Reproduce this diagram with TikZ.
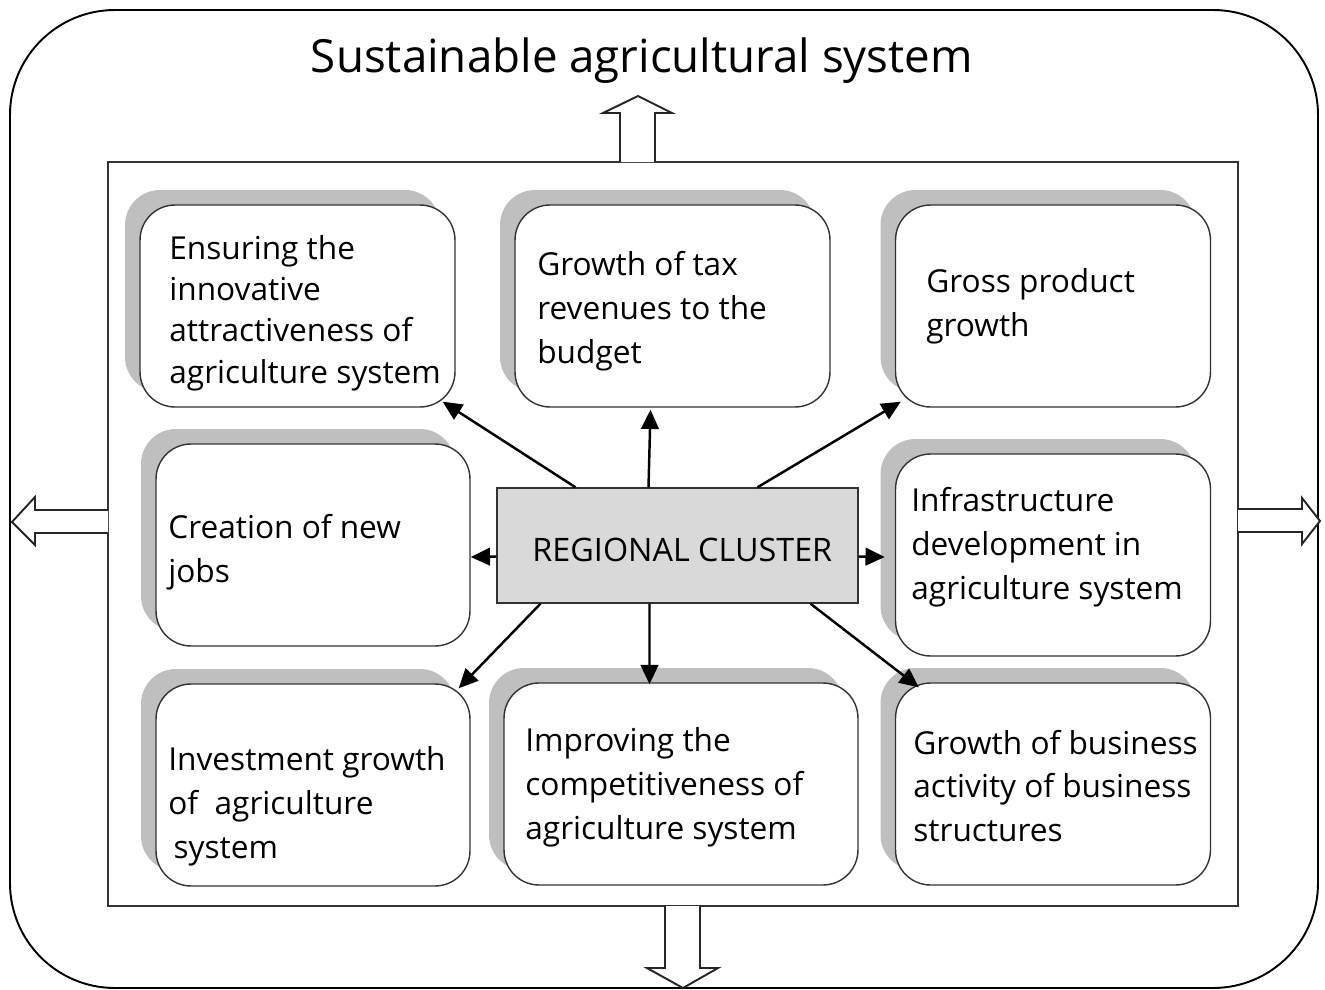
\documentclass[tikz,border=0pt]{standalone}
\usepackage{fontspec}
\setmainfont{Open Sans}
\usetikzlibrary{calc,shadows,arrows.meta}
\begin{document}
\begin{tikzpicture}[x=0.02cm,y=-0.02cm,
	effect/.style={draw=black!80,line width=0.8pt,rounded corners=0.7cm,fill=white,
		minimum width=6.3cm,minimum height=4.04cm,
		drop shadow={shadow xshift=-0.3cm,shadow yshift=0.3cm,fill=gray!50,opacity=1}},
	cluster/.style={draw=black!80,line width=0.8pt,fill=gray!30,minimum width=7.22cm,minimum height=2.3cm,
		font=\fontsize{18.4}{22}\selectfont},
	txt/.style={anchor=west,align=left,inner sep=0pt,font=\fontsize{18}{25}\selectfont},
	link/.style={line width=1.4pt,-{Triangle[length=11pt,width=10pt]}},
	hollow/.style={draw=black!85,line width=1.1pt,fill=white,line join=miter}]
	\useasboundingbox (0,0) rectangle (1325,990);
	% frames
	\draw[line width=1.1pt,rounded corners=2.1cm] (10,10) rectangle (1318,988);
	\draw[line width=0.9pt,draw=black!80] (108,162) rectangle (1238,906);
	\node[font=\fontsize{26}{30}\selectfont] (title) at (642,61) {Sustainable agricultural system};
	% outward arrows
	\draw[hollow] (620,162) -- (620,113) -- (603,113) -- (638,96) -- (672,113) -- (655,113) -- (655,162);
	\draw[hollow] (108,510) -- (35,510) -- (35,497) -- (12,522) -- (35,545) -- (35,533) -- (108,533);
	\draw[hollow] (1238,509) -- (1302,509) -- (1302,498) -- (1320,521) -- (1302,544) -- (1302,532) -- (1238,532);
	\draw[hollow] (665,906) -- (665,968) -- (647,968) -- (683,988) -- (718,968) -- (700,968) -- (700,906);
	% boxes
	\node[effect] (b1) at (297.5,306) {};
	\node[effect] (b2) at (672.5,306) {};
	\node[effect] (b3) at (1053,306) {};
	\node[effect,minimum width=6.28cm] (b4) at (313,545) {};
	\node[effect] (b5) at (1053,555) {};
	\node[effect,minimum width=6.28cm] (b6) at (313,785) {};
	\node[effect,minimum width=7.08cm] (b7) at (681,784) {};
	\node[effect] (b8) at (1053,784) {};
	\node[cluster,text height=18pt,text depth=0pt] (rc) at (677.5,545.5) {\hspace{5.5pt}REGIONAL CLUSTER};
	% texts
	\node[txt,font=\fontsize{18}{23.5}\selectfont] (t1) at (169,313) {Ensuring the\\innovative\\attractiveness of\\agriculture system};
	\node[txt] (t2) at (537,311) {Growth of tax\\revenues to the\\budget};
	\node[txt] (t3) at (926,306) {Gross product\\growth};
	\node[txt] (t4) at (168,552) {Creation of new\\jobs};
	\node[txt] (t5) at (911,547) {Infrastructure\\development in\\agriculture system};
	\node[txt] (t6) at (168,806) {Investment growth\\of\ \ agriculture\\\hspace{3pt}system};
	\node[txt] (t7) at (525,787) {Improving the\\competitiveness of\\agriculture system};
	\node[txt] (t8) at (913,786) {Growth of business\\activity of business\\structures};
	% arrows from the cluster
	\draw[link] ($(rc.north)+(-102,0)$) -- ($(b1.south east)+(-13,-6)$);
	\draw[link] ($(rc.north)+(-29,0)$) -- ($(b2.south)+(-22,2)$);
	\draw[link] ($(rc.north)+(80,0)$) -- ($(b3.south west)+(6,-6)$);
	\draw[link] ($(rc.west)+(0,11)$) -- ($(b4.east)+(0,12)$);
	\draw[link] ($(rc.east)+(0,11)$) -- ($(b5.west)+(-10,2)$);
	\draw[link] ($(rc.south)+(-137,0)$) -- ($(b6.north east)+(-12,5)$);
	\draw[link] ($(rc.south)+(-28,0)$) -- ($(b7.north)+(-31.5,2)$);
	\draw[link] ($(rc.south)+(133,0)$) -- ($(b8.north west)+(24,5)$);
\end{tikzpicture}
\end{document}
